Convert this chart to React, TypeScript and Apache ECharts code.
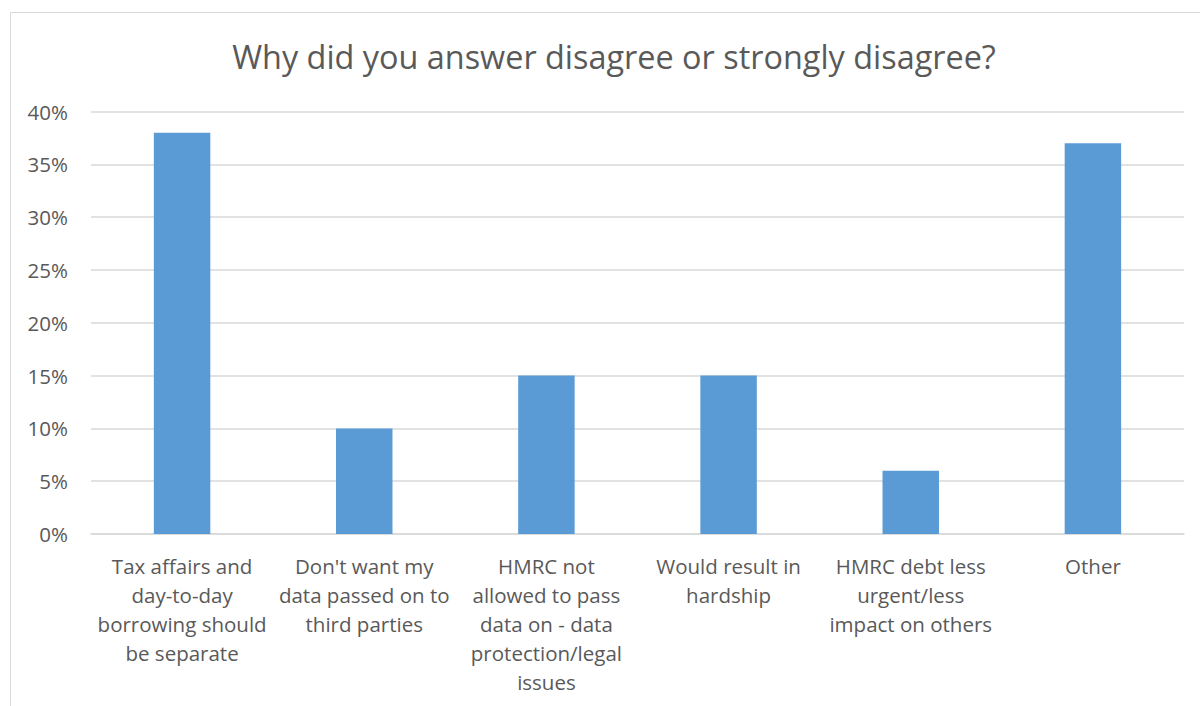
import React, { useEffect, useRef } from "react";
import * as echarts from "echarts";

const titleText = "Why did you answer disagree or strongly disagree?";

const categories = [
  "Tax affairs and\nday-to-day\nborrowing should\nbe separate",
  "Don't want my\ndata passed on to\nthird parties",
  "HMRC not\nallowed to pass\ndata on - data\nprotection/legal\nissues",
  "Would result in\nhardship",
  "HMRC debt less\nurgent/less\nimpact on others",
  "Other",
];

// Share of respondents, in percent
const shares = [38, 10, 15, 15, 6, 37];

const yMin = 0;
const yMax = 40;
const yStep = 5;

const FONT = "'Open Sans', 'Liberation Sans', sans-serif";
const TEXT_GREY = "#595959";

export default function App() {
  const ref = useRef<HTMLDivElement>(null);

  useEffect(() => {
    document.body.style.margin = "0";
    if (!ref.current) return;
    const chart = echarts.init(ref.current, null, { renderer: "svg" });
    chart.setOption({
      animation: false,
      backgroundColor: "#ffffff",
      textStyle: { fontFamily: FONT },
      title: {
        text: titleText,
        left: 609,
        textAlign: "center",
        top: 35,
        textStyle: {
          fontFamily: FONT,
          fontSize: 32.4,
          fontWeight: "normal",
          color: TEXT_GREY,
        },
      },
      graphic: [
        {
          type: "rect",
          shape: { x: 10.5, y: 12.5, width: 1200, height: 720 },
          style: { fill: "none", stroke: "#d9d9d9", lineWidth: 1 },
          silent: true,
        },
      ],
      grid: {
        left: 91,
        right: 16,
        top: 111.5,
        bottom: 172,
        outerBoundsMode: "none",
        containLabel: false,
      },
      xAxis: {
        type: "category",
        data: categories,
        axisTick: { show: false },
        axisLine: { show: true, lineStyle: { color: "#d9d9d9", width: 1.5 } },
        axisLabel: {
          interval: 0,
          margin: 17,
          fontFamily: FONT,
          fontSize: 20.5,
          lineHeight: 29,
          color: TEXT_GREY,
          align: "center",
        },
      },
      yAxis: {
        type: "value",
        min: yMin,
        max: yMax,
        interval: yStep,
        axisLine: { show: false },
        axisTick: { show: false },
        splitLine: { lineStyle: { color: "#d9d9d9", width: 1.5 } },
        axisLabel: {
          margin: 23,
          fontFamily: FONT,
          fontSize: 20.5,
          color: TEXT_GREY,
          formatter: (v: number) => `${v}%`,
        },
      },
      series: [
        {
          type: "bar",
          data: shares,
          barWidth: "31%",
          itemStyle: { color: "#5B9BD5" },
        },
      ],
    });
    return () => chart.dispose();
  }, []);

  return <div ref={ref} style={{ width: 1200, height: 706 }} />;
}
